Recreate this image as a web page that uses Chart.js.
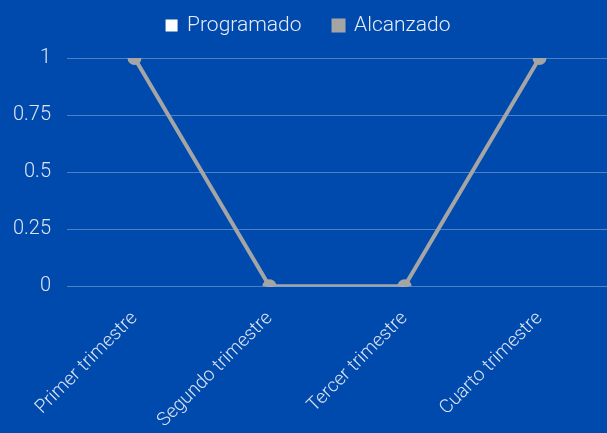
<!DOCTYPE html>
<html lang="es">
<head>
<meta charset="UTF-8">
<script src="https://cdn.jsdelivr.net/npm/chart.js"></script>
<style>
  html, body { margin: 0; padding: 0; background: #004AAD; }
  .wrap { width: 607px; height: 433px; }
</style>
</head>
<body>
<div class="wrap"><canvas id="chart"></canvas></div>
<script>
  const trimestres = ['Primer trimestre', 'Segundo trimestre', 'Tercer trimestre', 'Cuarto trimestre'];
  const programado = [1, 0, 0, 1];
  const alcanzado = [1, 0, 0, 1];
  const yTicks = [0, 0.25, 0.5, 0.75, 1];

  Chart.defaults.font.family = 'Roboto, sans-serif';
  Chart.defaults.font.weight = 300;
  Chart.defaults.color = '#DCE4F2';

  // a bit more room under the legend
  const legendGap = {
    id: 'legendGap',
    beforeInit(chart) {
      const fit = chart.legend.fit;
      chart.legend.fit = function () { fit.call(this); this.height += 12; };
    }
  };

  new Chart(document.getElementById('chart'), {
    type: 'line',
    data: {
      labels: trimestres,
      datasets: [
        { label: 'Programado', data: programado, borderColor: '#FFFFFF', backgroundColor: '#FFFFFF',
          borderWidth: 2, pointRadius: 3, order: 2 },
        { label: 'Alcanzado', data: alcanzado, borderColor: '#A5A5A5', backgroundColor: '#A5A5A5',
          borderWidth: 4, pointRadius: 5, order: 1 }
      ]
    },
    options: {
      responsive: true,
      maintainAspectRatio: false,
      animation: false,
      layout: { autoPadding: false, padding: { left: 10, right: 0, top: -17, bottom: 0 } },
      plugins: {
        legend: {
          position: 'top',
          labels: {
            boxWidth: 10, boxHeight: 10, padding: 32, font: { size: 21, weight: 300 }, color: '#E6ECF7',
            sort: (a, b) => a.datasetIndex - b.datasetIndex
          }
        },
        tooltip: { enabled: false }
      },
      scales: {
        x: {
          offset: true,
          grid: { display: false, drawTicks: false },
          border: { display: false },
          ticks: { maxRotation: 45, minRotation: 45, font: { size: 19 }, padding: 21 },
          afterFit: scale => { scale.paddingRight = 0; scale.paddingLeft = 0; scale.height -= 20; }
        },
        y: {
          min: 0, max: 1,
          afterBuildTicks: axis => { axis.ticks = yTicks.map(v => ({ value: v })); },
          grid: { color: 'rgba(255,255,255,0.3)', drawTicks: false, lineWidth: 1 },
          border: { display: false },
          ticks: { font: { size: 20 }, padding: 16, callback: v => String(v) },
          afterFit: scale => { scale.width = 57; }
        }
      }
    },
    plugins: [legendGap]
  });
</script>
</body>
</html>
